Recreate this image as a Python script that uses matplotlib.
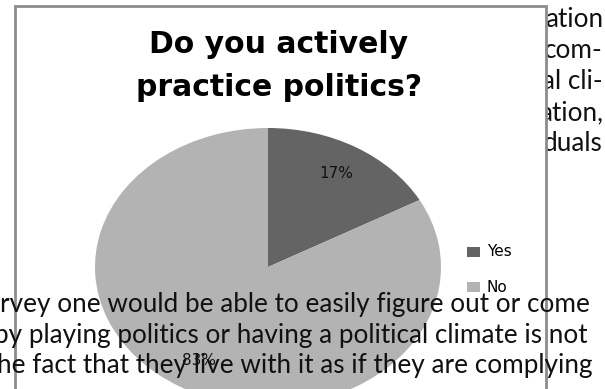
import matplotlib
matplotlib.use("Agg")
import matplotlib.pyplot as plt
from matplotlib.patches import Rectangle

# chart data
labels = ["Yes", "No"]
values = [17, 83]
colors = ["#646464", "#b3b3b3"]
title_lines = ["Do you actively", "practice politics?"]

# document text around the chart (what is visible of it)
side_lines = ["ation", "com-", "al cli-", "ation,", "duals"]
body_lines = [
    "rvey one would be able to easily figure out or come",
    "by playing politics or having a political climate is not",
    "he fact that they live with it as if they are complying",
]

W, H = 605, 389
fig = plt.figure(figsize=(W / 100, H / 100), dpi=100)
fig.patch.set_facecolor("white")

# background axes in pixel coords: side text + chart frame
ax_bg = fig.add_axes([0, 0, 1, 1], zorder=0)
ax_bg.set_xlim(0, W)
ax_bg.set_ylim(H, 0)
ax_bg.axis("off")

side_base = [27, 58, 89, 120, 151]
for y, s in zip(side_base, side_lines):
    ax_bg.text(603, y, s, ha="right", va="baseline", fontsize=18.8,
               family="Lato", color="#111111", zorder=1)

ax_bg.add_patch(Rectangle((15, 6), 531, 400, facecolor="white",
                          edgecolor="#8c8c8c", linewidth=2, zorder=2))

for y, s in zip([53, 96], title_lines):
    ax_bg.text(279, y, s, ha="center", va="baseline", fontsize=21.5,
               fontweight="bold", family="DejaVu Sans", zorder=3)

# legend drawn by hand to match the squashed markers
leg_y = [252, 287]
for y, lab, c in zip(leg_y, labels, colors):
    ax_bg.add_patch(Rectangle((467, y - 5), 13, 10, facecolor=c,
                              edgecolor="none", zorder=3))
    ax_bg.text(487, y, lab, ha="left", va="center", fontsize=11,
               family="DejaVu Sans", zorder=3)

# pie in its own (stretched) axes
cx, cy, rx, ry = 268, 267, 173, 139
ax_pie = fig.add_axes([(cx - rx) / W, (H - cy - ry) / H, 2 * rx / W, 2 * ry / H],
                      zorder=1)
wedges, texts, autotexts = ax_pie.pie(
    values, colors=colors, startangle=90, counterclock=False,
    autopct="%d%%", pctdistance=0.78,
    textprops=dict(fontsize=11, family="DejaVu Sans", color="#111111"))
for w in wedges:
    w.set_clip_on(False)
ax_pie.set_aspect("auto")
ax_pie.set_xlim(-1, 1)
ax_pie.set_ylim(-1, 1)
ax_pie.axis("off")

# body text sits over everything
ax_top = fig.add_axes([0, 0, 1, 1], zorder=2)
ax_top.patch.set_alpha(0)
ax_top.set_xlim(0, W)
ax_top.set_ylim(H, 0)
ax_top.axis("off")
body_x = [0, -6, -3]
body_base = [312, 343, 373]
for x, y, s in zip(body_x, body_base, body_lines):
    ax_top.text(x, y, s, ha="left", va="baseline", fontsize=18.8,
                family="Lato", color="#111111")

fig.savefig("out.png", dpi=100)
